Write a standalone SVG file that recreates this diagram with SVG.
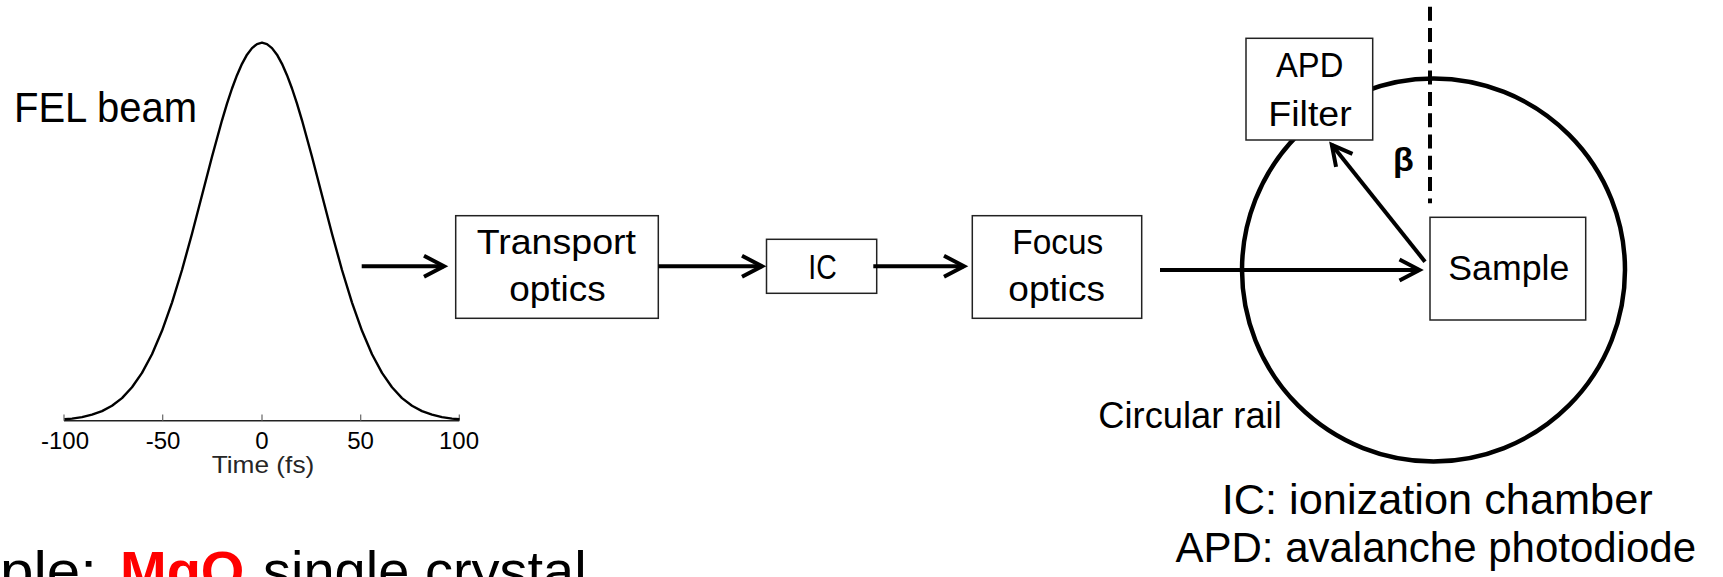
<svg xmlns="http://www.w3.org/2000/svg" width="1723" height="577" viewBox="0 0 1723 577">
<style>
  text { font-family: "Liberation Sans", Arial, sans-serif; fill: #000; }
  .box { fill: #fff; stroke: #222; stroke-width: 1.5; }
  .lbl { font-size: 35px; }
  .big { font-size: 42px; }
  .axl { font-size: 24px; fill: #262626; }
  .arrow { fill: none; stroke: #000; stroke-width: 4; marker-end: url(#arr); }
</style>
<defs>
  <marker id="arr" markerUnits="userSpaceOnUse" markerWidth="40" markerHeight="40" viewBox="-30 -20 40 40" refX="0" refY="0" orient="auto" overflow="visible">
    <path d="M-20,-10.5 L0,0 L-20,10.5" fill="none" stroke="#000" stroke-width="4" stroke-linejoin="miter"/>
  </marker>
</defs>
<rect width="1723" height="577" fill="#fff"/>

<g id="pulse-plot">
  <line x1="64" y1="420.7" x2="459.3" y2="420.7" stroke="#222" stroke-width="1.4"/>
  <g stroke="#666" stroke-width="1.2">
    <line x1="64" y1="414.5" x2="64" y2="420.7"/>
    <line x1="162.7" y1="414.5" x2="162.7" y2="420.7"/>
    <line x1="262" y1="414.5" x2="262" y2="420.7"/>
    <line x1="360.7" y1="414.5" x2="360.7" y2="420.7"/>
    <line x1="459.3" y1="414.5" x2="459.3" y2="420.7"/>
  </g>
  <polyline fill="none" stroke="#000" stroke-width="2.4" stroke-linejoin="round" points="64.5,419.3 72,418.6 82,417.1 92,414.7 102,411.1 112,405.8 122,398.1 132,387.3 142,372.9 152,354.2 162,330.8 172,302.6 182,270 192,233.7 202,195.3 212,156.7 222,120.3 227,103.7 232,88.5 237,75.2 242,63.8 247,54.7 252,48.1 257,44.1 262,42.7 267,44.1 272,48.1 277,54.7 282,63.8 287,75.2 292,88.5 297,103.7 302,120.3 312,156.7 322,195.3 332,233.7 342,270 352,302.6 362,330.8 372,354.2 382,372.9 392,387.3 402,398.1 412,405.8 422,411.1 432,414.7 442,417.1 452,418.6 459.5,419.3"/>
  <g class="axl" text-anchor="middle">
    <text x="65" y="448.5">-100</text>
    <text x="163" y="448.5">-50</text>
    <text x="262" y="448.5">0</text>
    <text x="360.5" y="448.5">50</text>
    <text x="459" y="448.5">100</text>
  </g>
  <text class="axl" x="211.7" y="472.5" textLength="102.6" lengthAdjust="spacingAndGlyphs">Time (fs)</text>
  <text class="big" x="14" y="122" textLength="183" lengthAdjust="spacingAndGlyphs">FEL beam</text>
</g>

<g id="rail">
  <circle cx="1433.5" cy="270" r="191.5" fill="none" stroke="#000" stroke-width="4.5"/>
  <text x="1098.3" y="428" font-size="36" textLength="183.4" lengthAdjust="spacingAndGlyphs">Circular rail</text>
</g>

<g id="node-transport">
  <rect class="box" x="455.7" y="215.7" width="202.6" height="102.6"/>
  <text class="lbl" x="476.7" y="254.3" textLength="159.3" lengthAdjust="spacingAndGlyphs">Transport</text>
  <text class="lbl" x="509.3" y="301" textLength="96.4" lengthAdjust="spacingAndGlyphs">optics</text>
</g>

<g id="node-ic">
  <rect class="box" x="766.5" y="239.3" width="110.2" height="54"/>
  <text class="lbl" x="808.3" y="279.3" textLength="28.4" lengthAdjust="spacingAndGlyphs">IC</text>
</g>

<g id="node-focus">
  <rect class="box" x="972.3" y="215.7" width="169.4" height="102.6"/>
  <text class="lbl" x="1012.3" y="254.3" textLength="91" lengthAdjust="spacingAndGlyphs">Focus</text>
  <text class="lbl" x="1008.3" y="301" textLength="96.7" lengthAdjust="spacingAndGlyphs">optics</text>
</g>

<g id="node-sample">
  <rect class="box" x="1430" y="217.3" width="155.7" height="102.7"/>
  <text class="lbl" x="1448.3" y="280" textLength="121" lengthAdjust="spacingAndGlyphs">Sample</text>
</g>

<g id="node-apd">
  <rect class="box" x="1246" y="38.3" width="126.7" height="101.7"/>
  <text class="lbl" x="1276" y="77.3" textLength="67.3" lengthAdjust="spacingAndGlyphs">APD</text>
  <text class="lbl" x="1268.3" y="126" textLength="83.4" lengthAdjust="spacingAndGlyphs">Filter</text>
</g>

<g id="connectors">
  <path class="arrow" d="M361.7,266.3 H444"/>
  <path class="arrow" d="M658.3,266.3 H762"/>
  <path class="arrow" d="M873.3,266.3 H964"/>
  <path class="arrow" d="M1160,270 H1419.5"/>
  <path class="arrow" d="M1425,261.7 L1331.8,144.8"/>
  <path d="M1430,6.7 V203.3" fill="none" stroke="#000" stroke-width="4" stroke-dasharray="14 7.3"/>
  <text x="1403.3" y="171" font-size="34" font-weight="bold" text-anchor="middle">β</text>
</g>

<g id="legend">
  <text class="big" x="1221.7" y="514" textLength="431" lengthAdjust="spacingAndGlyphs">IC: ionization chamber</text>
  <text class="big" x="1175.5" y="562" textLength="520.5" lengthAdjust="spacingAndGlyphs">APD: avalanche photodiode</text>
</g>

<g id="sample-note">
  <text font-size="56" y="590"><tspan x="0" textLength="97" lengthAdjust="spacingAndGlyphs">ple:</tspan><tspan x="120" font-weight="bold" style="fill:#ff0000">MgO</tspan><tspan x="263">single crystal</tspan></text>
</g>
</svg>
